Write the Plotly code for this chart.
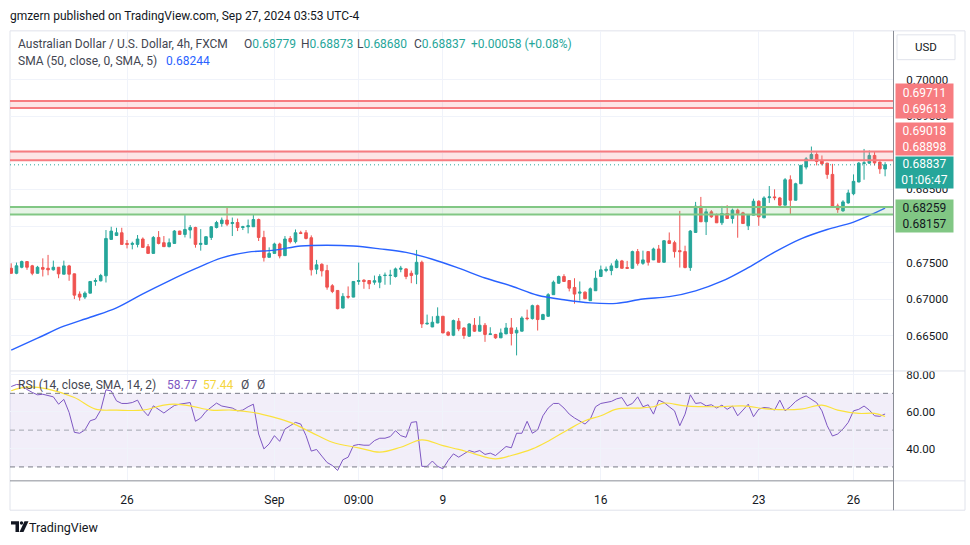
import plotly.graph_objects as go

# ---------------- data ----------------
opens = [0.67422,0.67354,0.67436,0.67514,0.67456,0.67354,0.67432,0.67422,0.67401,0.67436,
0.67341,0.67455,0.67346,0.67069,0.67028,0.67082,0.67242,0.67251,0.67319,0.67817,
0.67871,0.67908,0.67762,0.67749,0.67749,0.67822,0.67718,0.67626,0.67844,0.67772,
0.67718,0.67762,0.67931,0.67885,0.67945,0.67980,0.67749,0.67749,0.67844,0.67980,
0.68034,0.68081,0.68034,0.68048,0.67980,0.67990,0.67990,0.68089,0.67844,0.67572,
0.67626,0.67754,0.67595,0.67830,0.67786,0.67908,0.67908,0.67840,0.67409,0.67477,
0.67391,0.67183,0.67119,0.66878,0.67038,0.67028,0.67242,0.67259,0.67255,0.67232,
0.67232,0.67323,0.67323,0.67310,0.67409,0.67414,0.67354,0.67341,0.67504,0.66661,
0.66620,0.66674,0.66766,0.66548,0.66507,0.66698,0.66606,0.66494,0.66643,0.66562,
0.66643,0.66517,0.66517,0.66471,0.66525,0.66606,0.66538,0.66562,0.66742,0.66734,
0.66911,0.66721,0.66766,0.67061,0.67218,0.67310,0.67255,0.67160,0.67082,0.67096,
0.66979,0.67115,0.67310,0.67391,0.67391,0.67432,0.67523,0.67432,0.67422,0.67650,
0.67490,0.67650,0.67537,0.67686,0.67504,0.67799,0.67772,0.67663,0.67650,0.67432,
0.67912,0.68271,0.68058,0.68194,0.68149,0.68044,0.68171,0.68103,0.68217,0.68180,
0.68003,0.68149,0.68339,0.68112,0.68388,0.68398,0.68384,0.68285,0.68633,0.68353,
0.68578,0.68806,0.68918,0.68978,0.68897,0.68860,0.68706,0.68275,0.68207,0.68316,
0.68442,0.68602,0.68856,0.68860,0.68965,0.68874,0.68779]
highs = [0.67490,0.67500,0.67527,0.67520,0.67469,0.67455,0.67558,0.67605,0.67527,0.67440,
0.67527,0.67469,0.67350,0.67106,0.67106,0.67245,0.67286,0.67346,0.67945,0.67990,
0.67976,0.67976,0.67809,0.67786,0.67877,0.67844,0.67754,0.67863,0.67931,0.67863,
0.67830,0.67945,0.67935,0.68149,0.68013,0.67990,0.67958,0.67856,0.67999,0.68071,
0.68116,0.68248,0.68116,0.68102,0.68003,0.68089,0.68162,0.68102,0.67935,0.67708,
0.67772,0.67772,0.67863,0.67863,0.67953,0.67935,0.67945,0.67872,0.67537,0.67490,
0.67469,0.67205,0.67122,0.67082,0.67174,0.67245,0.67500,0.67273,0.67258,0.67323,
0.67341,0.67364,0.67401,0.67432,0.67455,0.67422,0.67391,0.67673,0.67527,0.66789,
0.66766,0.66888,0.66770,0.66562,0.66721,0.66742,0.66616,0.66670,0.66742,0.66766,
0.66674,0.66616,0.66525,0.66598,0.66674,0.66742,0.66616,0.66766,0.66857,0.66925,
0.66925,0.66800,0.67082,0.67255,0.67323,0.67341,0.67258,0.67286,0.67242,0.67106,
0.67160,0.67387,0.67459,0.67446,0.67490,0.67550,0.67537,0.67523,0.67663,0.67686,
0.67663,0.67653,0.67704,0.67741,0.67809,0.67912,0.67799,0.68207,0.67731,0.67945,
0.68330,0.68398,0.68238,0.68217,0.68171,0.68275,0.68285,0.68238,0.68238,0.68194,
0.68157,0.68374,0.68353,0.68407,0.68547,0.68502,0.68398,0.68656,0.68693,0.68592,
0.68837,0.68942,0.69087,0.69010,0.68965,0.68863,0.68850,0.68306,0.68353,0.68497,
0.68706,0.68874,0.69054,0.69033,0.69019,0.68883,0.68873]
lows = [0.67346,0.67341,0.67422,0.67401,0.67327,0.67350,0.67310,0.67327,0.67391,0.67286,
0.67340,0.67251,0.67001,0.66979,0.67001,0.67080,0.67183,0.67242,0.67228,0.67815,
0.67863,0.67745,0.67694,0.67681,0.67708,0.67705,0.67622,0.67622,0.67749,0.67715,
0.67708,0.67760,0.67882,0.67844,0.67830,0.67704,0.67663,0.67745,0.67809,0.67967,
0.67990,0.67999,0.67863,0.67931,0.67945,0.67899,0.67987,0.67795,0.67514,0.67570,
0.67622,0.67558,0.67592,0.67762,0.67762,0.67890,0.67817,0.67323,0.67341,0.67310,
0.67129,0.67082,0.66861,0.66875,0.67006,0.67025,0.67197,0.67142,0.67137,0.67197,
0.67150,0.67197,0.67197,0.67296,0.67368,0.67273,0.67218,0.67205,0.66606,0.66653,
0.66617,0.66671,0.66535,0.66494,0.66494,0.66562,0.66457,0.66484,0.66552,0.66558,
0.66416,0.66514,0.66457,0.66468,0.66522,0.66367,0.66231,0.66558,0.66711,0.66721,
0.66571,0.66718,0.66756,0.67058,0.67210,0.67238,0.67106,0.66938,0.66979,0.67001,
0.66976,0.67112,0.67306,0.67368,0.67327,0.67422,0.67419,0.67419,0.67419,0.67459,
0.67469,0.67459,0.67534,0.67501,0.67501,0.67754,0.67568,0.67432,0.67422,0.67387,
0.67909,0.68055,0.67877,0.68112,0.68041,0.68013,0.68100,0.68034,0.67840,0.68031,
0.67945,0.68146,0.68003,0.68109,0.68316,0.68353,0.68275,0.68282,0.68157,0.68350,
0.68575,0.68774,0.68897,0.68829,0.68829,0.68646,0.68258,0.68180,0.68194,0.68306,
0.68421,0.68599,0.68633,0.68850,0.68829,0.68714,0.68680]
closes = [0.67354,0.67456,0.67514,0.67436,0.67354,0.67436,0.67409,0.67401,0.67436,0.67346,
0.67455,0.67341,0.67055,0.67028,0.67082,0.67242,0.67255,0.67323,0.67830,0.67931,
0.67908,0.67749,0.67749,0.67762,0.67822,0.67708,0.67626,0.67844,0.67762,0.67718,
0.67772,0.67931,0.67885,0.67953,0.67980,0.67749,0.67762,0.67854,0.67990,0.68048,
0.68081,0.68026,0.68048,0.67980,0.67990,0.68003,0.68089,0.67844,0.67568,0.67626,
0.67754,0.67591,0.67822,0.67786,0.67908,0.67899,0.67830,0.67401,0.67469,0.67387,
0.67164,0.67106,0.66870,0.67038,0.67028,0.67242,0.67255,0.67242,0.67210,0.67251,
0.67310,0.67327,0.67327,0.67414,0.67422,0.67310,0.67323,0.67504,0.66661,0.66670,
0.66684,0.66766,0.66538,0.66507,0.66707,0.66593,0.66503,0.66661,0.66562,0.66643,
0.66517,0.66525,0.66471,0.66538,0.66606,0.66530,0.66575,0.66742,0.66734,0.66911,
0.66721,0.66789,0.67061,0.67232,0.67310,0.67242,0.67150,0.67069,0.67096,0.67006,
0.67142,0.67286,0.67401,0.67409,0.67455,0.67523,0.67422,0.67422,0.67650,0.67490,
0.67537,0.67504,0.67686,0.67504,0.67799,0.67762,0.67650,0.67650,0.67432,0.67931,
0.68271,0.68058,0.68194,0.68126,0.68044,0.68171,0.68103,0.68217,0.68171,0.68034,
0.68149,0.68339,0.68126,0.68384,0.68398,0.68388,0.68285,0.68633,0.68353,0.68578,
0.68829,0.68918,0.68978,0.68883,0.68851,0.68706,0.68262,0.68225,0.68330,0.68452,
0.68611,0.68860,0.68864,0.68965,0.68864,0.68782,0.68837]

bar_idx = list(range(len(closes)))

sma_idx = [0,5,10,15,20,25,30,35,40,45,50,55,60,65,70,75,80,85,90,95,100,105,110,115,120,125,130,135,140,145,150,155,160,166]
sma_val = [0.66303,0.66466,0.66630,0.66752,0.66881,0.67072,0.67251,0.67417,0.67565,0.67643,0.67670,0.67727,0.67738,0.67727,0.67688,0.67639,0.67546,0.67424,0.67289,0.67180,0.67053,0.66992,0.66949,0.66942,0.67002,0.67034,0.67114,0.67246,0.67432,0.67643,0.67825,0.67953,0.68054,0.68244]

rsi = [73.7,74.8,74.6,72.1,70.5,69.2,69.5,68.8,68.1,64.1,
66.7,59.6,48.8,48.3,50.1,55.1,56.0,60.9,71.9,71.3,
65.9,64.5,64.5,65.0,66.3,60.9,57.8,63.2,61.4,59.3,
61.4,63.4,64.1,64.5,65.0,54.8,56.6,60.2,62.7,64.7,
63.1,62.7,62.0,60.5,60.9,62.7,64.1,47.9,39.8,42.5,
47.0,43.9,50.6,52.4,54.2,53.3,47.0,38.6,39.5,35.9,
32.4,30.8,28.1,33.9,35.3,41.6,42.2,41.8,41.8,44.3,
45.6,45.6,46.5,49.7,47.0,46.1,54.2,54.6,30.3,30.3,
33.2,30.3,29.0,33.5,37.1,35.3,37.1,38.9,38.0,38.9,
36.8,37.5,36.2,38.6,41.1,40.4,48.3,48.3,54.8,48.3,
50.1,57.8,62.0,64.5,64.5,62.0,58.7,56.6,55.1,53.3,
56.0,62.7,64.5,65.0,65.6,67.0,67.7,63.2,64.5,68.1,
62.7,63.8,58.7,66.3,65.0,62.7,60.5,52.4,58.7,69.2,
64.5,64.9,63.2,63.8,62.0,63.6,61.3,63.1,57.8,60.9,
64.1,57.3,61.4,62.3,62.0,60.9,66.3,60.5,62.7,65.6,
67.4,68.6,66.8,64.9,60.5,52.4,46.8,47.9,50.6,54.2,
60.5,61.3,63.1,60.9,57.8,57.5,58.77]

rsi_ma_idx = [0,3,7,12,16,20,25,29,31,34,38,42,46,50,53,57,61,66,70,74,78,82,85,88,92,95,99,102,106,109,112,115,119,122,124,128,134,139,144,150,154,157,161,164,166]
rsi_ma_val = [71.4,73.5,72.3,67.7,61.4,60.9,60.9,63.6,64.1,63.2,60.9,60.9,59.6,56.9,54.2,48.8,43.4,40.4,38.0,40.7,44.7,41.6,39.5,37.1,34.4,36.2,39.8,44.0,50.6,55.1,57.8,61.4,62.0,62.7,64.7,63.2,62.7,63.2,61.4,61.4,63.6,60.9,59.1,59.1,57.44]

tick_idx = [22, 50, 66, 82, 112, 142, 160]
tick_text = ["26", "Sep", "09:00", "9", "16", "23", "26"]

price_ticks = [0.665, 0.670, 0.675, 0.680, 0.685, 0.690, 0.695, 0.700]
hidden_price_ticks = [0.680, 0.690]   # fully covered by the level labels in the reference
rsi_ticks = [40, 60, 80]
rsi_levels = [70, 50, 30]

resistance = [0.69711, 0.69613, 0.69018, 0.68898]
support = [0.68259, 0.68157]
last_close = closes[-1]
countdown = "01:06:47"

# ---------------- style ----------------
W, H = 970, 545
GREEN = "#26a69a"
RED = "#ef5350"
GRID = "#f0f3fa"
TXT = "#131722"
LEG = "#434651"
FONT = "Roboto"

def px(x):
    return x / W

def py(y):
    return 1 - y / H

X0, X1 = 10, 893

fig = go.Figure()

fig.add_trace(go.Candlestick(
    x=bar_idx, open=opens, high=highs, low=lows, close=closes,
    increasing=dict(line=dict(color=GREEN, width=1), fillcolor=GREEN),
    decreasing=dict(line=dict(color=RED, width=1), fillcolor=RED),
    whiskerwidth=0, xaxis="x", yaxis="y", showlegend=False, hoverinfo="skip"))

fig.add_trace(go.Scatter(
    x=sma_idx, y=sma_val, mode="lines", line=dict(color="#2962ff", width=1.4, shape="spline"),
    xaxis="x", yaxis="y", showlegend=False, hoverinfo="skip"))

fig.add_trace(go.Scatter(
    x=bar_idx, y=rsi, mode="lines", line=dict(color="#7e57c2", width=1),
    xaxis="x2", yaxis="y2", showlegend=False, hoverinfo="skip"))

fig.add_trace(go.Scatter(
    x=rsi_ma_idx, y=rsi_ma_val, mode="lines", line=dict(color="#fbe23c", width=1.2, shape="spline"),
    xaxis="x2", yaxis="y2", showlegend=False, hoverinfo="skip"))

shapes = []
shapes.append(dict(type="rect", xref="paper", yref="paper", x0=px(10), x1=px(965), y0=py(510), y1=py(28),
                   line=dict(color="#e0e3eb", width=1), layer="below"))
shapes.append(dict(type="rect", xref="paper", yref="y2", x0=px(X0), x1=px(X1), y0=rsi_levels[2], y1=rsi_levels[0],
                   fillcolor="rgba(126,87,194,0.1)", line=dict(width=0), layer="below"))
for lv in rsi_levels:
    shapes.append(dict(type="line", xref="paper", yref="y2", x0=px(X0), x1=px(X1), y0=lv, y1=lv,
                       line=dict(color="#787b86" if lv != 50 else "#a3a6af", width=1, dash="5px,4px")))
for a, b in [(resistance[0], resistance[1]), (resistance[2], resistance[3])]:
    shapes.append(dict(type="rect", xref="paper", yref="y", x0=px(X0), x1=px(X1), y0=b, y1=a,
                       fillcolor="rgba(247,124,128,0.2)", line=dict(width=0)))
for lv in resistance:
    shapes.append(dict(type="line", xref="paper", yref="y", x0=px(X0), x1=px(X1), y0=lv, y1=lv,
                       line=dict(color="#f77c80", width=2)))
shapes.append(dict(type="rect", xref="paper", yref="y", x0=px(X0), x1=px(X1), y0=support[1], y1=support[0],
                   fillcolor="rgba(129,199,132,0.2)", line=dict(width=0)))
for lv in support:
    shapes.append(dict(type="line", xref="paper", yref="y", x0=px(X0), x1=px(X1), y0=lv, y1=lv,
                       line=dict(color="#81c784", width=2)))
shapes.append(dict(type="line", xref="paper", yref="y", x0=px(X0), x1=px(X1), y0=last_close, y1=last_close,
                   line=dict(color=GREEN, width=1, dash="1px,3px")))
shapes.append(dict(type="line", xref="paper", yref="paper", x0=px(10), x1=px(965), y0=py(370), y1=py(370),
                   line=dict(color="#e0e3eb", width=1)))
shapes.append(dict(type="line", xref="paper", yref="paper", x0=px(10), x1=px(X1), y0=py(480.5), y1=py(480.5),
                   line=dict(color="#8a8d96", width=1)))
shapes.append(dict(type="line", xref="paper", yref="paper", x0=px(X1), x1=px(965), y0=py(480.5), y1=py(480.5),
                   line=dict(color="#e0e3eb", width=1)))
shapes.append(dict(type="line", xref="paper", yref="paper", x0=px(X1 + 0.5), x1=px(X1 + 0.5), y0=py(510), y1=py(28),
                   line=dict(color="#8a8d96", width=1)))
shapes.append(dict(type="rect", xref="paper", yref="paper", x0=px(897), x1=px(955), y0=py(57), y1=py(32),
                   line=dict(color="#e0e3eb", width=1), fillcolor="white"))
shapes.append(dict(type="path", xref="paper", yref="paper",
                   path=f"M {px(11)},{py(521)} L {px(19)},{py(521)} L {px(19)},{py(532)} L {px(15.5)},{py(532)} L {px(15.5)},{py(524.5)} L {px(11)},{py(524.5)} Z",
                   fillcolor=TXT, line=dict(width=0)))
shapes.append(dict(type="circle", xref="paper", yref="paper", x0=px(19.8), x1=px(23.2), y0=py(524.6), y1=py(521.2),
                   fillcolor=TXT, line=dict(width=0)))
shapes.append(dict(type="path", xref="paper", yref="paper",
                   path=f"M {px(24.5)},{py(521)} L {px(28.5)},{py(521)} L {px(23.5)},{py(532)} L {px(19.5)},{py(532)} Z",
                   fillcolor=TXT, line=dict(width=0)))

ann = []
def text(x, y, s, size=12, color=TXT, xanchor="left", **kw):
    ann.append(dict(xref="paper", yref="paper", x=px(x), y=py(y), text=s, showarrow=False,
                    xanchor=xanchor, yanchor="middle", font=dict(family=FONT, size=size, color=color), **kw))

def lab(letter, value):
    return f"<span style='color:{LEG}'>{letter}</span><span style='color:{GREEN}'>{value:.5f}</span>"

text(8, 13.5, "gmzern published on TradingView.com, Sep 27, 2024 03:53 UTC-4", size=12)
o, h, l, c = opens[-1], highs[-1], lows[-1], closes[-1]
chg = c - o
text(16, 41, "Australian Dollar / U.S. Dollar, 4h, FXCM", size=12, color=LEG)
text(242, 41, lab("O", o), size=12)
text(299, 41, lab("H", h), size=12)
text(355, 41, lab("L", l), size=12)
text(412, 41, lab("C", c), size=12)
text(469, 41, f"+{chg:.5f} (+{chg / o * 100:.2f}%)", size=12, color=GREEN)
text(16, 58, "SMA (50, close, 0, SMA, 5)", size=12, color=LEG)
text(164, 58, f"{sma_val[-1]:.5f}", size=12, color="#2962ff")
text(16, 384, "RSI (14, close, SMA, 14, 2)", size=12, color=LEG)
text(165, 384, f"{rsi[-1]:.2f}", size=12, color="#7e57c2")
text(201, 384, f"{rsi_ma_val[-1]:.2f}", size=12, color="#f5d63d")
text(239, 384, "Ø", size=12, color=LEG)
text(255, 384, "Ø", size=12, color=LEG)
text(926, 44.5, "USD", size=11.5, xanchor="center")
text(27, 527.5, "TradingView", size=12.5)

def box(ytop, height, lines, bg, fg):
    ann.append(dict(xref="paper", yref="paper", x=px(895), y=py(ytop), xanchor="left", yanchor="top",
                    text="<br>".join(lines), showarrow=False, align="center", bgcolor=bg,
                    width=57, height=height, borderpad=0, valign="middle",
                    font=dict(family=FONT, size=12, color=fg)))

box(80, 33.5, [f"{resistance[0]:.5f}", f"{resistance[1]:.5f}"], "#f77c80", "white")
box(120, 32, [f"{resistance[2]:.5f}", f"{resistance[3]:.5f}"], "#f77c80", "white")
box(154, 30.5, [f"{last_close:.5f}", countdown], GREEN, "white")
box(197, 32, [f"{support[0]:.5f}", f"{support[1]:.5f}"], "#81c784", TXT)

price_ticktext = ["" if v in hidden_price_ticks else f"{v:.5f}" for v in price_ticks]

fig.update_layout(
    width=W, height=H, margin=dict(l=0, r=0, t=0, b=0),
    paper_bgcolor="white", plot_bgcolor="white",
    font=dict(family=FONT, color=TXT),
    shapes=shapes, annotations=ann, showlegend=False,
    xaxis=dict(domain=[px(X0), px(X1)], range=[-0.23, 167.5], anchor="y", showticklabels=False,
               tickvals=tick_idx, showgrid=True, gridcolor=GRID, zeroline=False, showline=False,
               rangeslider=dict(visible=False), fixedrange=True),
    xaxis2=dict(domain=[px(X0), px(X1)], matches="x", anchor="y2", tickvals=tick_idx, ticktext=tick_text,
                showgrid=True, gridcolor=GRID, zeroline=False, showline=False,
                ticks="outside", ticklen=8, tickcolor="rgba(0,0,0,0)",
                tickfont=dict(family=FONT, size=12, color=TXT)),
    yaxis=dict(domain=[py(370), py(28)], range=[0.66018, 0.70669], side="right", anchor="x",
               tickvals=price_ticks, ticktext=price_ticktext, showgrid=True, gridcolor=GRID, zeroline=False,
               showline=False, ticks="outside", ticklen=10, tickcolor="rgba(0,0,0,0)",
               tickfont=dict(family=FONT, size=11.5, color=TXT), fixedrange=True),
    yaxis2=dict(domain=[py(480), py(370)], range=[22.7, 82.16], side="right", anchor="x2",
                tickvals=rsi_ticks, ticktext=[f"{v:.2f}" for v in rsi_ticks], showgrid=True, gridcolor=GRID,
                zeroline=False, showline=False, ticks="outside", ticklen=10, tickcolor="rgba(0,0,0,0)",
                tickfont=dict(family=FONT, size=11.5, color=TXT)),
)

fig.write_html("out.html", config={"displayModeBar": False},
               post_script="document.body.style.margin='0';document.body.style.overflow='hidden';")
